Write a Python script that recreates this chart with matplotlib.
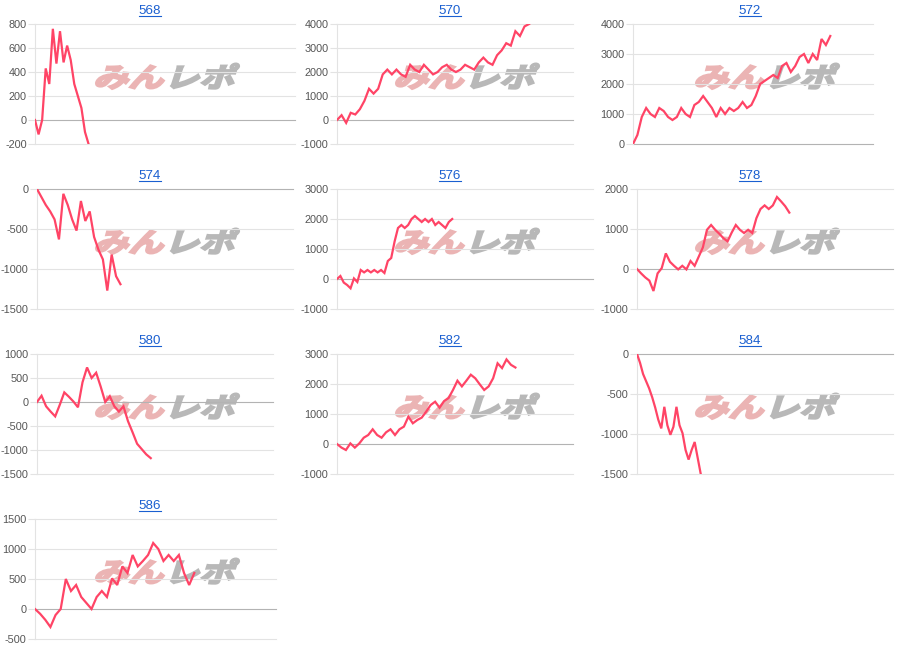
import matplotlib.pyplot as plt
from matplotlib.lines import Line2D
from matplotlib.textpath import TextPath
from matplotlib.patches import PathPatch
from matplotlib.font_manager import FontProperties
from matplotlib.transforms import Affine2D, IdentityTransform

plt.rcParams['font.family'] = ['Liberation Sans', 'DejaVu Sans']

# data (cumulative balance per machine)
titles = ['568', '570', '572', '574', '576', '578', '580', '582', '584', '586']

s568 = [0, -120, 0, 430, 300, 760, 470, 740, 480, 620, 500, 300, 200, 100, -100, -200]
s570 = [0, 200, -120, 300, 230, 450, 800, 1300, 1100, 1300, 1900, 2100, 1900, 2100,
        1900, 1800, 2300, 2100, 2000, 2300, 2100, 1900, 2000, 2200, 2300, 2100, 2000,
        2100, 2300, 2200, 2100, 2400, 2600, 2400, 2300, 2700, 2900, 3200, 3100, 3700,
        3500, 3900, 4000]
s572 = [0, 300, 900, 1200, 1000, 900, 1200, 1100, 900, 800, 900, 1200, 1000, 900,
        1300, 1400, 1600, 1400, 1200, 900, 1200, 1000, 1200, 1100, 1200, 1400, 1200,
        1300, 1600, 2000, 2100, 2200, 2300, 2200, 2600, 2700, 2400, 2600, 2900, 3000,
        2700, 3000, 2800, 3500, 3300, 3600]
s574 = [0, -100, -200, -280, -380, -630, -60, -200, -380, -520, -150, -400, -280,
        -600, -760, -880, -1270, -820, -1090, -1190]
s576 = [0, 100, -120, -200, -310, 20, -100, 300, 220, 300, 220, 300, 220, 300, 200,
        600, 700, 1250, 1700, 1800, 1700, 1800, 2000, 2100, 2000, 1900, 2000, 1900,
        2000, 1800, 1900, 1800, 1700, 1900, 2000]
s578 = [0, -110, -210, -290, -550, -110, 20, 390, 180, 80, -10, 80, -10, 200, 80,
        310, 540, 980, 1100, 980, 880, 770, 690, 910, 1100, 980, 900, 980, 900, 1270,
        1500, 1590, 1500, 1590, 1800, 1690, 1570, 1410]
s580 = [0, 130, -90, -200, -300, -60, 200, 110, 10, -110, 410, 720, 500, 610, 320,
        0, 120, -90, -200, -90, -400, -630, -870, -980, -1090, -1170]
s582 = [0, -120, -200, 20, -120, 20, 210, 300, 490, 300, 210, 390, 490, 300, 490,
        580, 910, 690, 800, 880, 1080, 1300, 1410, 1210, 1430, 1530, 1800, 2110, 1920,
        2110, 2310, 2190, 1990, 1800, 1920, 2190, 2690, 2530, 2820, 2640, 2550]
s584 = [0, -110, -250, -340, -430, -540, -670, -820, -930, -660, -890, -1010, -910,
        -660, -890, -990, -1200, -1320, -1200, -1100, -1300, -1500]
s586 = [0, -80, -180, -300, -100, 0, 500, 300, 400, 200, 100, 0, 200, 300, 200, 510,
        400, 710, 600, 900, 710, 800, 900, 1100, 1000, 800, 900, 800, 900, 600, 400, 600]
series = [s568, s570, s572, s574, s576, s578, s580, s582, s584, s586]

yticks = [
    [-200, 0, 200, 400, 600, 800],
    [-1000, 0, 1000, 2000, 3000, 4000],
    [0, 1000, 2000, 3000, 4000],
    [-1500, -1000, -500, 0],
    [-1000, 0, 1000, 2000, 3000],
    [-1000, 0, 1000, 2000],
    [-1500, -1000, -500, 0, 500, 1000],
    [-1000, 0, 1000, 2000, 3000],
    [-1500, -1000, -500, 0],
    [-500, 0, 500, 1000, 1500],
]

# layout (pixels): axes left/right edges, share of the x axis used by the data
ax_lr = [(35, 295), (337, 573), (633, 873),
         (37, 293), (337, 593), (637, 893),
         (37, 273), (337, 573), (637, 893),
         (35, 276)]
span = [0.206, 0.814, 0.822, 0.326, 0.450, 0.595, 0.482, 0.756, 0.249, 0.661]
row_tb = [(24, 144), (189, 309), (354, 474), (519, 639)]

W, H = 900, 660
LINE = '#ff4466'

fig = plt.figure(figsize=(9, 6.6), dpi=100)
fp_wm = FontProperties(family='Noto Sans CJK JP', weight='bold')

title_texts = []
for i, (name, vals) in enumerate(zip(titles, series)):
    r, c = divmod(i, 3)
    x0, x1 = ax_lr[i]
    t0, t1 = row_tb[r]
    ax = fig.add_axes([x0 / W, 1 - t1 / H, (x1 - x0) / W, (t1 - t0) / H])
    ax.patch.set_visible(False)

    xs = list(range(len(vals)))
    ax.plot(xs, vals, color=LINE, lw=1.6, solid_joinstyle='miter', zorder=3)
    ax.set_xlim(0, (len(vals) - 1) / span[i])
    yt = yticks[i]
    ax.set_ylim(yt[0], yt[-1])
    ax.set_yticks(yt)
    ax.set_yticklabels([str(v) for v in yt])
    ax.set_xticks([])
    for v in yt:
        col = '#b3b3b3' if v == 0 else '#e3e3e3'
        ax.axhline(v, color=col, lw=0.8, zorder=1, clip_on=False)
    for s in ['top', 'right', 'bottom']:
        ax.spines[s].set_visible(False)
    ax.spines['left'].set_color('#e3e3e3')
    ax.spines['left'].set_linewidth(0.8)
    ax.tick_params(axis='y', length=5, width=0.8, color='#e3e3e3', pad=1,
                   labelsize=7.8, labelcolor='#555555')

    # title, centred on the panel cell
    cx = 150 + 300 * c
    by = 14 + 165 * r
    t = fig.text(cx / W, 1 - by / H, name, ha='center', va='baseline',
                 fontsize=9.6, color='#1a5fd0')
    title_texts.append((t, by))

    # watermark logo behind the lines
    wx = 93 + 300 * c
    wy = H - (87 + 165 * r)
    for txt, col, dx in [('みん', '#ebb4b4', 0), ('レポ', '#b8b8b8', 71)]:
        tp = TextPath((0, 0), txt, size=27, prop=fp_wm)
        tr = Affine2D().skew_deg(14, 0).scale(1.3, 1.0).translate(wx + dx, wy)
        p = PathPatch(tp, transform=tr + IdentityTransform(), facecolor=col,
                      edgecolor=col, lw=1.6, zorder=-1)
        fig.add_artist(p)

# underline the titles like links
fig.canvas.draw()
for t, by in title_texts:
    bb = t.get_window_extent()
    y = H - by - 1.5
    fig.add_artist(Line2D([bb.x0, bb.x1], [y, y], color='#1a5fd0', lw=0.8,
                          transform=IdentityTransform()))

fig.savefig('out.png', dpi=100)
